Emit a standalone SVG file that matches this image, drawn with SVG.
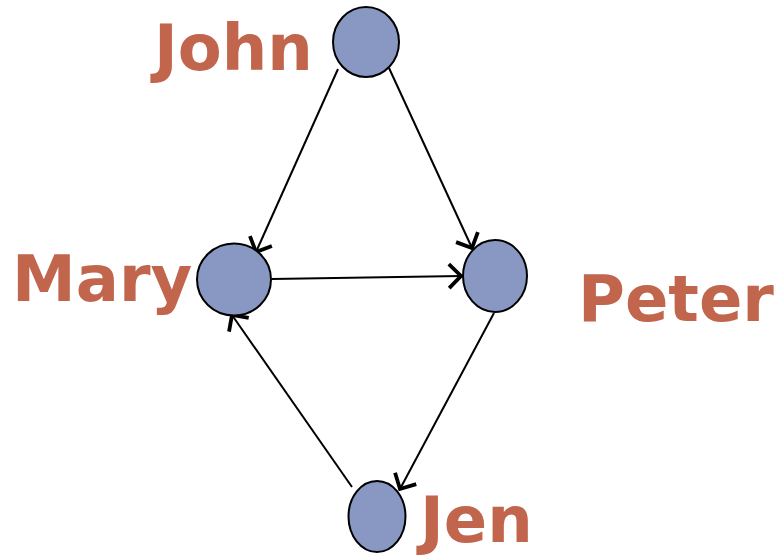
<svg xmlns="http://www.w3.org/2000/svg" width="777" height="556" viewBox="0 0 777 556">
  <defs>
    <marker id="open-arrow" viewBox="0 0 26 28" refX="21" refY="14" markerWidth="26" markerHeight="28" markerUnits="userSpaceOnUse" orient="auto">
      <path d="M9,2 L21,14 L9,26" fill="none" stroke="#000" stroke-width="3.8"/>
    </marker>
    <style>
      .node { fill: #8898C3; stroke: #000; stroke-width: 2; }
      .label { font-family: "DejaVu Sans", sans-serif; font-weight: bold; font-size: 64px; fill: #C1654C; }
      .edge { fill: none; stroke: #000; stroke-width: 2; marker-end: url(#open-arrow); }
    </style>
  </defs>
  <rect width="777" height="556" fill="#fff"/>

  <g id="edges">
    <line class="edge" x1="338" y1="69" x2="256" y2="252"/>
    <line class="edge" x1="389" y1="68" x2="472" y2="248"/>
    <line class="edge" x1="272" y1="279" x2="461" y2="276"/>
    <line class="edge" x1="494" y1="313" x2="400" y2="489"/>
    <line class="edge" x1="352" y1="487" x2="232" y2="315"/>
  </g>

  <g id="john">
    <ellipse class="node" cx="366" cy="42" rx="33" ry="35"/>
    <text class="label" x="154" y="70">John</text>
  </g>
  <g id="mary">
    <ellipse class="node" cx="234" cy="279.5" rx="37" ry="36"/>
    <text class="label" x="12" y="301">Mary</text>
  </g>
  <g id="peter">
    <ellipse class="node" cx="495" cy="276" rx="32" ry="36"/>
    <text class="label" x="578" y="321">Peter</text>
  </g>
  <g id="jen">
    <ellipse class="node" cx="377" cy="516.5" rx="28.5" ry="35.5"/>
    <text class="label" x="420" y="542">Jen</text>
  </g>
</svg>
